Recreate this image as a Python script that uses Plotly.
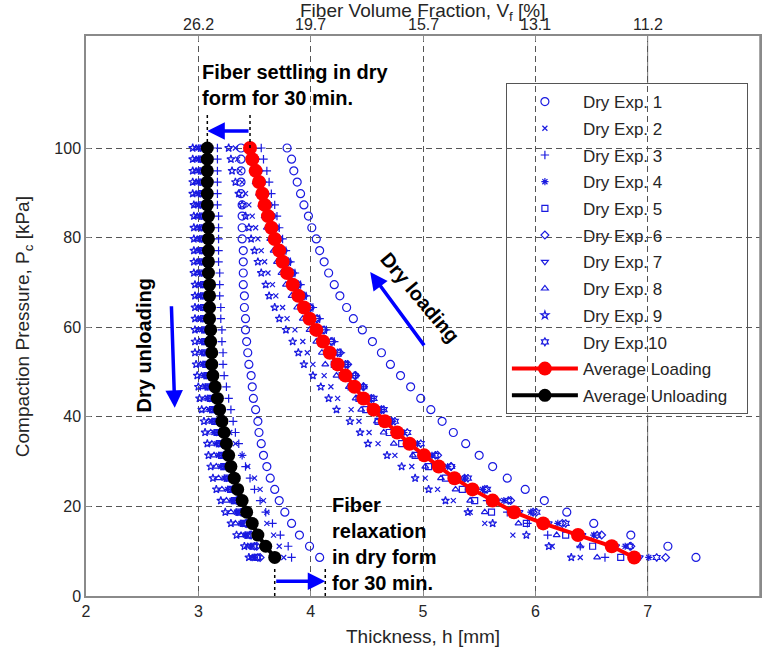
import plotly.graph_objects as go

# ---------------- data ----------------
pressure_kpa = [100.0, 97.5, 94.9, 92.4, 89.8, 87.3, 84.8, 82.2, 79.7, 77.1, 74.6, 72.1, 69.5,
                67.0, 64.4, 61.9, 59.4, 56.8, 54.3, 51.7, 49.2, 46.7, 44.1, 41.6, 39.0, 36.5,
                34.0, 31.4, 28.9, 26.3, 23.8, 21.3, 18.7, 16.2, 13.6, 11.1, 8.6]

avg_loading = [3.46, 3.48, 3.51, 3.54, 3.57, 3.59, 3.62, 3.65, 3.68, 3.72, 3.75, 3.79, 3.84,
               3.89, 3.94, 3.99, 4.05, 4.11, 4.17, 4.24, 4.31, 4.39, 4.47, 4.56, 4.66, 4.77,
               4.88, 5.01, 5.14, 5.28, 5.44, 5.62, 5.81, 6.07, 6.38, 6.68, 6.88]
avg_unloading = [3.08, 3.08, 3.08, 3.08, 3.08, 3.08, 3.09, 3.09, 3.09, 3.09, 3.09, 3.09, 3.10,
                 3.10, 3.10, 3.10, 3.11, 3.11, 3.12, 3.12, 3.13, 3.15, 3.17, 3.19, 3.21, 3.23,
                 3.25, 3.27, 3.29, 3.32, 3.35, 3.39, 3.43, 3.48, 3.53, 3.60, 3.68]

exp1_load = [3.79, 3.83, 3.85, 3.88, 3.91, 3.94, 3.98, 4.01, 4.05, 4.08, 4.12, 4.16, 4.21,
             4.26, 4.32, 4.38, 4.46, 4.55, 4.63, 4.71, 4.80, 4.89, 4.98, 5.07, 5.17, 5.27,
             5.38, 5.50, 5.62, 5.75, 5.91, 6.08, 6.28, 6.52, 6.85, 7.18, 7.43]
exp1_unload = [3.38, 3.38, 3.38, 3.38, 3.38, 3.39, 3.39, 3.39, 3.39, 3.40, 3.40, 3.40, 3.40,
               3.41, 3.41, 3.42, 3.42, 3.43, 3.44, 3.45, 3.47, 3.48, 3.49, 3.51, 3.53, 3.54,
               3.56, 3.58, 3.61, 3.64, 3.68, 3.72, 3.77, 3.83, 3.90, 3.99, 4.08]
exp2_load = [3.33, 3.35, 3.37, 3.39, 3.42, 3.45, 3.48, 3.51, 3.53, 3.56, 3.59, 3.62, 3.66,
             3.69, 3.75, 3.79, 3.86, 3.93, 3.97, 4.02, 4.12, 4.18, 4.24, 4.36, 4.43, 4.52,
             4.60, 4.75, 4.90, 5.02, 5.13, 5.27, 5.42, 5.55, 5.80, 6.15, 6.40]
exp2_unload = [3.04, 3.04, 3.04, 3.04, 3.04, 3.05, 3.05, 3.05, 3.05, 3.05, 3.06, 3.06, 3.06,
               3.06, 3.07, 3.07, 3.08, 3.08, 3.09, 3.10, 3.12, 3.14, 3.17, 3.20, 3.24, 3.28,
               3.33, 3.39, 3.44, 3.50, 3.55, 3.58, 3.61, 3.61, 3.67, 3.72, 3.76]
exp3_load = [3.56, 3.58, 3.61, 3.63, 3.65, 3.68, 3.70, 3.72, 3.75, 3.78, 3.82, 3.86, 3.91,
             3.96, 4.02, 4.08, 4.14, 4.21, 4.27, 4.33, 4.40, 4.47, 4.54, 4.63, 4.72, 4.81,
             4.91, 5.01, 5.13, 5.26, 5.41, 5.57, 5.75, 5.93, 6.11, 6.40, 6.62]
exp3_unload = [3.17, 3.17, 3.17, 3.17, 3.17, 3.17, 3.18, 3.18, 3.18, 3.18, 3.18, 3.19, 3.19,
               3.19, 3.20, 3.20, 3.21, 3.21, 3.22, 3.22, 3.23, 3.25, 3.27, 3.29, 3.31, 3.33,
               3.36, 3.39, 3.42, 3.46, 3.50, 3.55, 3.60, 3.66, 3.73, 3.80, 3.83]
exp4_load = [3.47, 3.50, 3.52, 3.55, 3.59, 3.61, 3.64, 3.67, 3.70, 3.74, 3.77, 3.81, 3.86,
             3.91, 3.97, 4.02, 4.08, 4.14, 4.21, 4.28, 4.35, 4.44, 4.52, 4.61, 4.72, 4.83,
             4.95, 5.08, 5.22, 5.37, 5.53, 5.72, 5.96, 6.20, 6.52, 6.80, 7.01]
exp4_unload = [3.00, 3.00, 3.00, 3.00, 3.00, 3.00, 3.01, 3.01, 3.01, 3.01, 3.01, 3.01, 3.02,
               3.02, 3.02, 3.02, 3.03, 3.03, 3.03, 3.04, 3.05, 3.06, 3.08, 3.10, 3.12, 3.14,
               3.16, 3.18, 3.20, 3.23, 3.26, 3.30, 3.34, 3.38, 3.42, 3.47, 3.50]
exp5_load = [3.45, 3.47, 3.50, 3.53, 3.56, 3.58, 3.61, 3.64, 3.67, 3.70, 3.73, 3.77, 3.82,
             3.87, 3.92, 3.97, 4.03, 4.09, 4.15, 4.21, 4.28, 4.36, 4.43, 4.49, 4.60, 4.70,
             4.81, 4.93, 5.05, 5.20, 5.35, 5.46, 5.61, 5.92, 6.27, 6.51, 6.76]
exp5_unload = [3.03, 3.03, 3.03, 3.03, 3.03, 3.03, 3.04, 3.04, 3.04, 3.04, 3.04, 3.04, 3.05,
               3.05, 3.05, 3.05, 3.06, 3.06, 3.06, 3.07, 3.08, 3.09, 3.11, 3.13, 3.15, 3.17,
               3.19, 3.21, 3.23, 3.26, 3.29, 3.32, 3.36, 3.40, 3.44, 3.49, 3.52]
exp6_load = [3.48, 3.51, 3.54, 3.57, 3.60, 3.63, 3.66, 3.69, 3.72, 3.76, 3.80, 3.84, 3.89,
             3.94, 4.00, 4.06, 4.12, 4.19, 4.26, 4.33, 4.40, 4.47, 4.54, 4.63, 4.72, 4.80,
             4.92, 5.13, 5.25, 5.37, 5.55, 5.78, 5.98, 6.24, 6.59, 6.85, 7.16]
exp6_unload = [3.06, 3.06, 3.06, 3.06, 3.06, 3.06, 3.07, 3.07, 3.07, 3.07, 3.07, 3.07, 3.08,
               3.08, 3.08, 3.08, 3.09, 3.09, 3.09, 3.10, 3.11, 3.12, 3.14, 3.16, 3.18, 3.20,
               3.22, 3.24, 3.26, 3.29, 3.32, 3.35, 3.39, 3.43, 3.47, 3.52, 3.55]
exp7_load = [3.46, 3.49, 3.52, 3.55, 3.58, 3.60, 3.63, 3.66, 3.69, 3.73, 3.76, 3.80, 3.85,
             3.90, 3.95, 4.01, 4.07, 4.13, 4.19, 4.26, 4.33, 4.41, 4.49, 4.58, 4.68, 4.79,
             4.90, 5.03, 5.17, 5.31, 5.47, 5.66, 5.86, 6.12, 6.42, 6.72, 6.93]
exp7_unload = [3.02, 3.02, 3.02, 3.02, 3.02, 3.02, 3.03, 3.03, 3.03, 3.03, 3.03, 3.03, 3.04,
               3.04, 3.04, 3.04, 3.05, 3.05, 3.05, 3.06, 3.07, 3.08, 3.10, 3.12, 3.14, 3.16,
               3.18, 3.20, 3.22, 3.25, 3.28, 3.31, 3.35, 3.39, 3.43, 3.46, 3.48]
exp8_load = [3.44, 3.46, 3.49, 3.51, 3.54, 3.56, 3.59, 3.61, 3.64, 3.67, 3.70, 3.74, 3.78,
             3.83, 3.88, 3.93, 3.99, 4.05, 4.10, 4.13, 4.23, 4.34, 4.40, 4.45, 4.59, 4.65,
             4.74, 4.91, 5.02, 5.16, 5.29, 5.42, 5.55, 5.85, 6.19, 6.40, 6.55]
exp8_unload = [2.98, 2.98, 2.98, 2.98, 2.98, 2.98, 2.99, 2.99, 2.99, 2.99, 2.99, 2.99, 3.00,
               3.00, 3.00, 3.00, 3.00, 3.01, 3.01, 3.02, 3.03, 3.04, 3.06, 3.07, 3.09, 3.11,
               3.12, 3.14, 3.16, 3.18, 3.21, 3.25, 3.29, 3.33, 3.38, 3.44, 3.48]
exp9_load = [3.27, 3.29, 3.30, 3.33, 3.36, 3.39, 3.42, 3.45, 3.47, 3.50, 3.53, 3.56, 3.60,
             3.63, 3.68, 3.72, 3.78, 3.84, 3.89, 3.94, 4.02, 4.09, 4.16, 4.23, 4.35, 4.44,
             4.51, 4.68, 4.81, 4.93, 5.05, 5.20, 5.40, 5.62, 5.92, 6.12, 6.32]
exp9_unload = [2.95, 2.95, 2.95, 2.95, 2.95, 2.96, 2.96, 2.96, 2.96, 2.96, 2.96, 2.96, 2.97,
               2.97, 2.97, 2.97, 2.97, 2.97, 2.97, 2.98, 2.99, 3.00, 3.01, 3.03, 3.05, 3.06,
               3.08, 3.09, 3.11, 3.13, 3.16, 3.20, 3.24, 3.29, 3.34, 3.41, 3.45]
exp10_load = [3.47, 3.50, 3.53, 3.56, 3.59, 3.62, 3.65, 3.68, 3.71, 3.75, 3.79, 3.83, 3.88,
              3.93, 3.99, 4.05, 4.11, 4.18, 4.24, 4.31, 4.39, 4.47, 4.56, 4.65, 4.75, 4.86,
              4.98, 5.11, 5.25, 5.40, 5.57, 5.76, 6.01, 6.27, 6.55, 6.84, 7.08]
exp10_unload = [3.05, 3.05, 3.05, 3.05, 3.05, 3.05, 3.06, 3.06, 3.06, 3.06, 3.06, 3.06, 3.07,
                3.07, 3.07, 3.07, 3.08, 3.08, 3.08, 3.09, 3.10, 3.11, 3.13, 3.15, 3.17, 3.19,
                3.21, 3.23, 3.25, 3.28, 3.31, 3.34, 3.38, 3.42, 3.46, 3.50, 3.53]

exp_names = ["Dry Exp. 1", "Dry Exp. 2", "Dry Exp. 3", "Dry Exp. 4", "Dry Exp. 5",
             "Dry Exp. 6", "Dry Exp. 7", "Dry Exp. 8", "Dry Exp. 9", "Dry Exp.10"]
thickness_ticks = [2, 3, 4, 5, 6, 7, 8]
vf_tick_pos = [3, 4, 5, 6, 7]
vf_tick_labels = ["26.2", "19.7", "15.7", "13.1", "11.2"]
pressure_ticks = [0, 20, 40, 60, 80, 100]

# ---------------- figure ----------------
exp_loads = [exp1_load, exp2_load, exp3_load, exp4_load, exp5_load,
             exp6_load, exp7_load, exp8_load, exp9_load, exp10_load]
exp_unloads = [exp1_unload, exp2_unload, exp3_unload, exp4_unload, exp5_unload,
               exp6_unload, exp7_unload, exp8_unload, exp9_unload, exp10_unload]
symbols = ["circle-open", "x-thin-open", "cross-thin-open", "asterisk-open", "square-open",
           "diamond-open", "triangle-down-open", "triangle-up-open", "star-open", "hexagram-open"]
sizes = [8, 5, 6, 6, 6, 6, 6, 6, 6, 6]

BLUE = "#1a1ae0"
FONT = "Liberation Sans, Arial, sans-serif"
TXT = "#262626"

fig = go.Figure()
for i in range(10):
    fig.add_trace(go.Scatter(
        x=exp_loads[i] + exp_unloads[i],
        y=pressure_kpa + pressure_kpa,
        mode="markers", name=exp_names[i], legendgroup=f"g{i}",
        marker=dict(symbol=symbols[i], size=sizes[i], color=BLUE,
                    line=dict(color=BLUE, width=1.2)),
    ))

fig.add_trace(go.Scatter(
    x=avg_loading, y=pressure_kpa, mode="lines+markers", name="Average Loading",
    legendgroup="gL", line=dict(color="#ff0000", width=4),
    marker=dict(symbol="circle", size=14, color="#ff0000")))
fig.add_trace(go.Scatter(
    x=avg_unloading, y=pressure_kpa, mode="lines+markers",
    name="Average Unloading\u00a0\u00a0\u00a0",
    legendgroup="gU", line=dict(color="#000000", width=4),
    marker=dict(symbol="circle", size=13, color="#000000")))

# invisible trace to activate the top axis
fig.add_trace(go.Scatter(x=[vf_tick_pos[0]], y=[pressure_kpa[0]], xaxis="x2", mode="markers",
                         marker=dict(opacity=0), showlegend=False, hoverinfo="skip"))

GRID = "#555555"
AXC = "#8a8a8a"
fig.update_layout(
    width=764, height=652,
    margin=dict(l=86, r=4, t=36, b=56),
    paper_bgcolor="white", plot_bgcolor="white",
    font=dict(family=FONT, size=16, color=TXT),
    showlegend=True,
    legend=dict(x=0.623, y=0.916, xanchor="left", yanchor="top",
                bgcolor="rgba(0,0,0,0)", bordercolor="#555555", borderwidth=1,
                font=dict(size=17, color=TXT), tracegroupgap=1.6, itemwidth=66),
    xaxis=dict(range=[2, 8], tickvals=thickness_ticks, showgrid=True, automargin=False,
               gridcolor=GRID, griddash="6px,4px", gridwidth=1,
               showline=True, linecolor=AXC, linewidth=1.5, mirror=False,
               ticks="inside", ticklen=5, tickcolor=AXC, zeroline=False,
               tickfont=dict(size=16)),
    xaxis2=dict(range=[2, 8], overlaying="x", side="top", anchor="y", automargin=False,
                tickvals=vf_tick_pos, showticklabels=False, showgrid=False,
                showline=True, linecolor=AXC, linewidth=1.5,
                ticks="inside", ticklen=5, tickcolor=AXC, zeroline=False),
    yaxis=dict(range=[0, 125], tickvals=pressure_ticks, showgrid=True, automargin=False,
               gridcolor=GRID, griddash="6px,4px", gridwidth=1,
               showline=True, linecolor=AXC, linewidth=1.5, mirror=True,
               ticks="inside", ticklen=5, tickcolor=AXC, zeroline=False,
               tickfont=dict(size=16)),
)

# top-axis (fiber volume fraction) tick labels
for pos, lab in zip(vf_tick_pos, vf_tick_labels):
    fig.add_annotation(x=pos, y=1, xref="x", yref="paper", yanchor="middle", yshift=12,
                       text=lab, showarrow=False, font=dict(size=16, color=TXT))

# axis titles as annotations for precise placement
fig.add_annotation(x=0.5, y=0, xref="paper", yref="paper", yanchor="middle", yshift=-40,
                   text="Thickness, h [mm]", showarrow=False, font=dict(size=19, color=TXT))
fig.add_annotation(x=0.5, y=1, xref="paper", yref="paper", yanchor="middle", yshift=24,
                   text="Fiber Volume Fraction, V<sub>f</sub> [%]", showarrow=False,
                   font=dict(size=19, color=TXT))
fig.add_annotation(x=0, y=0.48, xref="paper", yref="paper", xanchor="center", xshift=-62,
                   text="Compaction Pressure, P<sub>c</sub> [kPa]", textangle=-90,
                   showarrow=False, font=dict(size=19, color=TXT))

# right frame line
fig.add_shape(type="line", xref="paper", yref="paper", x0=1, x1=1, y0=0, y1=1,
              line=dict(color=AXC, width=1.5))
# solid part of x=7 grid line (below and above the legend)
fig.add_shape(type="line", x0=7, x1=7, y0=0, y1=40.5, line=dict(color="#777777", width=1), layer="below")
fig.add_shape(type="line", x0=7, x1=7, y0=114.5, y1=125, line=dict(color="#777777", width=1), layer="below")

# dotted markers for settling / relaxation
top_y0, top_y1 = pressure_kpa[0], 108
for xv in [avg_unloading[0], avg_loading[0]]:
    fig.add_shape(type="line", x0=xv, x1=xv, y0=top_y0, y1=top_y1,
                  line=dict(color="black", width=1.5, dash="dot"))
for xv in [avg_unloading[-1], 4.13]:
    fig.add_shape(type="line", x0=xv, x1=xv, y0=0, y1=6.5,
                  line=dict(color="black", width=1.5, dash="dot"))

def arrow(x_head, y_head, x_tail, y_tail):
    fig.add_annotation(x=x_head, y=y_head, ax=x_tail, ay=y_tail, xref="x", yref="y",
                       axref="x", ayref="y", text="", showarrow=True,
                       arrowhead=2, arrowsize=1.0, arrowwidth=3.5, arrowcolor="#0000ff")

arrow(avg_unloading[0], 103.8, avg_loading[0], 103.8)
arrow(4.13, 3.3, avg_unloading[-1], 3.3)
arrow(2.79, 42, 2.76, 65)
arrow(4.53, 72.3, 5.02, 55.6)

BOLD = dict(family="Liberation Sans, Arial, sans-serif", size=20, color="black")
fig.add_annotation(x=3.015, y=119.8, xref="x", yref="y", xanchor="left", yanchor="top",
                   text="<b>Fiber settling in dry<br>form for 30 min.</b>", showarrow=False,
                   align="left", font=BOLD)
fig.add_annotation(x=4.17, y=23.2, xref="x", yref="y", xanchor="left", yanchor="top",
                   text="<b>Fiber<br>relaxation<br>in dry form<br>for 30 min.</b>", showarrow=False,
                   align="left", font=BOLD)
fig.add_annotation(x=2.52, y=56, xref="x", yref="y", text="<b>Dry unloading</b>",
                   showarrow=False, textangle=-90, font=BOLD)
fig.add_annotation(x=4.97, y=66.7, xref="x", yref="y", text="<b>Dry loading</b>",
                   showarrow=False, textangle=50, font=BOLD)

# remove the default 8px page margin so the figure fills the window exactly
fig.write_html("out.html", config={"displayModeBar": False},
               post_script="document.body.style.margin='0px';")
